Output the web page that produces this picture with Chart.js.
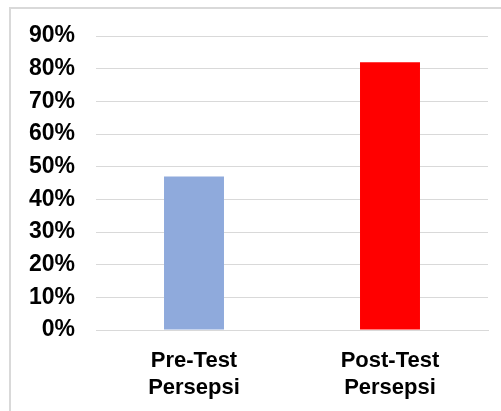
<!DOCTYPE html>
<html>
<head>
<meta charset="utf-8">
<script src="https://cdn.jsdelivr.net/npm/chart.js@4"></script>
<style>
  html, body { margin: 0; padding: 0; background: #fff; }
  #wrap { position: relative; width: 501px; height: 411px; overflow: hidden; }
  #frame { position: absolute; left: 9px; top: 7px; width: 600px; height: 600px; border: 2px solid #d9d9d9; box-sizing: border-box; }
  #box { position: absolute; left: 0; top: 0; width: 501px; height: 411px; }
</style>
</head>
<body>
<div id="wrap">
  <div id="frame"></div>
  <div id="box"><canvas id="myChart"></canvas></div>
</div>
<script>
// bar chart pre/post test persepsi

var categories = [["Pre-Test", "Persepsi"], ["Post-Test", "Persepsi"]];
var values = [47, 82];
var barColors = ["#8faadc", "#ff0000"];
var yTicks = [0, 10, 20, 30, 40, 50, 60, 70, 80, 90];

Chart.defaults.font.family = "'Liberation Sans', Arial, sans-serif";
Chart.defaults.font.weight = "bold";
Chart.defaults.font.size = 23;
Chart.defaults.color = "#000";

var ctx = document.getElementById("myChart");
var persepsiChart = new Chart(ctx, {
	type: "bar",
	data: {
		labels: categories,
		datasets: [
			{
				data: values,
				backgroundColor: barColors,
				borderWidth: 0,
				categoryPercentage: 1,
				barPercentage: 0.306,
			},
		],
	},
	options: {
		responsive: true,
		maintainAspectRatio: false,
		animation: false,
		layout: {
			padding: { left: 0, right: 13, top: 36, bottom: 0 },
		},
		plugins: {
			legend: { display: false },
			tooltip: { enabled: false },
		},
		scales: {
			x: {
				grid: { display: false, drawTicks: false },
				border: { display: true, color: "#d9d9d9", width: 1 },
				ticks: {
					padding: 17,
					maxRotation: 0,
					font: { size: 22, lineHeight: 1.24 },
				},
				afterFit: function (scale) {
					scale.height = 411 - 330;
				},
			},
			y: {
				min: 0,
				max: 90,
				grid: { color: "#d9d9d9", drawTicks: false },
				border: { display: false },
				ticks: {
					stepSize: 10,
					padding: 21,
					callback: function (v) {
						return yTicks.indexOf(v) >= 0 ? v + "%" : "";
					},
				},
				afterFit: function (scale) {
					scale.width = 96;
				},
			},
		},
	},
});
</script>
</body>
</html>
